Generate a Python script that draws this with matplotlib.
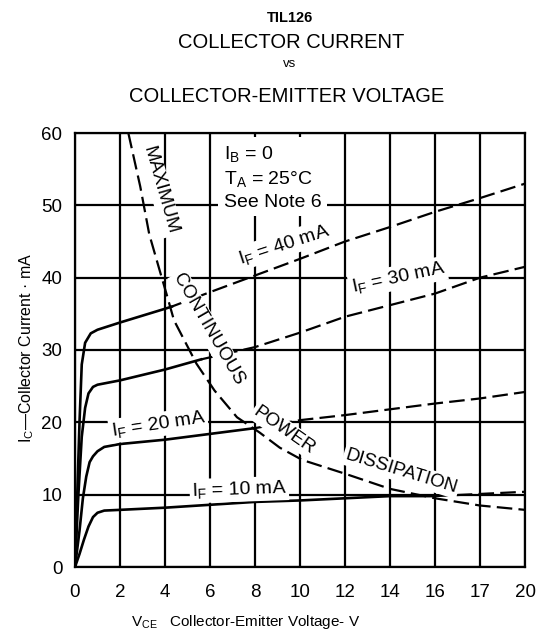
import matplotlib
matplotlib.use("Agg")
import matplotlib.pyplot as plt

plt.rcParams['font.family'] = ['Liberation Sans', 'DejaVu Sans']
plt.rcParams['mathtext.fontset'] = 'custom'
plt.rcParams['mathtext.rm'] = 'Liberation Sans'
plt.rcParams['mathtext.it'] = 'Liberation Sans:italic'
plt.rcParams['mathtext.bf'] = 'Liberation Sans:bold'
plt.rcParams['mathtext.default'] = 'regular'

# axis ticks (the scan labels the 18 V line as "17")
x_ticks = [0, 2, 4, 6, 8, 10, 12, 14, 16, 18, 20]
x_tick_labels = ['0', '2', '4', '6', '8', '10', '12', '14', '16', '17', '20']
y_ticks = [0, 10, 20, 30, 40, 50, 60]

# IF = 10 mA
if10_v = [0, 0.2, 0.4, 0.6, 0.8, 1.0, 1.3, 2, 4, 6, 8, 10, 12, 14, 16]
if10_i = [0, 1.8, 3.8, 5.6, 6.9, 7.5, 7.8, 7.9, 8.2, 8.6, 9.0, 9.2, 9.5, 9.8, 9.8]
if10_dash_v = [16, 18, 20]
if10_dash_i = [9.8, 10.1, 10.4]

# IF = 20 mA
if20_v = [0, 0.2, 0.35, 0.5, 0.65, 0.8, 1.0, 1.3, 2, 4, 6, 8]
if20_i = [0, 5.0, 9.5, 12.5, 14.5, 15.3, 16.0, 16.6, 17.0, 17.6, 18.4, 19.2]
if20_dash_v = [8, 10, 12, 14, 16, 18, 20]
if20_dash_i = [19.2, 20.3, 21.0, 21.8, 22.6, 23.3, 24.2]

# IF = 30 mA
if30_v = [0, 0.15, 0.3, 0.45, 0.6, 0.8, 1.0, 2, 4, 5.6]
if30_i = [0, 10, 18, 22, 24, 24.9, 25.2, 25.8, 27.3, 28.7]
if30_dash_v = [5.6, 8, 10, 12, 14, 16, 18, 20]
if30_dash_i = [28.7, 30.4, 32.4, 34.6, 36.2, 37.8, 40.0, 41.5]

# IF = 40 mA
if40_v = [0, 0.1, 0.2, 0.3, 0.45, 0.7, 1.0, 2, 4, 4.3]
if40_i = [0, 10, 20, 28, 31, 32.3, 32.8, 33.8, 35.7, 36]
if40_dash_v = [4.3, 6, 8, 10, 12, 14, 16, 18, 20]
if40_dash_i = [36, 38, 40.3, 42.6, 45, 47, 49.1, 51, 53]

# maximum continuous power dissipation
pd_v = [2.37, 2.9, 3.3, 3.8, 4.1, 4.4, 5.4, 6.2, 7.2, 8.2, 9.1, 10.1, 12, 14, 16, 18, 20]
pd_i = [60, 52.6, 46, 40.6, 37.4, 34.1, 28.1, 24.4, 20.7, 18.6, 16.5, 14.8, 12.9, 10.8, 9.5, 8.5, 7.9]

fig = plt.figure(figsize=(5.37, 6.4), dpi=100)
ax = fig.add_axes([75 / 537, 73 / 640, 450 / 537, 434 / 640])

ax.set_xlim(0, 20)
ax.set_ylim(0, 60)
ax.set_xticks(x_ticks)
ax.set_xticklabels(x_tick_labels)
ax.set_yticks(y_ticks)
ax.tick_params(length=0, labelsize=13.5)
ax.tick_params(axis='x', pad=12)
ax.tick_params(axis='y', pad=9)
ax.grid(True, color='black', lw=1.6)
ax.set_axisbelow(True)
for sp in ax.spines.values():
    sp.set_linewidth(1.6)

solid = dict(color='black', lw=1.9, zorder=3)
dashed = dict(color='black', lw=1.6, ls=(0, (7, 2.8)), zorder=3)

for v, i, dv, di in [(if10_v, if10_i, if10_dash_v, if10_dash_i),
                     (if20_v, if20_i, if20_dash_v, if20_dash_i),
                     (if30_v, if30_i, if30_dash_v, if30_dash_i),
                     (if40_v, if40_i, if40_dash_v, if40_dash_i)]:
    ax.plot(v, i, **solid)
    ax.plot(dv, di, **dashed)

ax.plot(pd_v, pd_i, **dashed)

white = dict(facecolor='white', edgecolor='none', pad=1.5)

def label(x, y, s, rot, size=14):
    ax.text(x, y, s, rotation=rot, rotation_mode='anchor', ha='center', va='center',
            fontsize=size, bbox=white, zorder=5)

label(9.3, 44.6, 'I$_\\mathrm{F}$ = 40 mA', 18)
label(14.35, 40.0, 'I$_\\mathrm{F}$ = 30 mA', 12)
label(3.7, 19.7, 'I$_\\mathrm{F}$ = 20 mA', 8.5)
label(7.3, 10.7, 'I$_\\mathrm{F}$ = 10 mA', 2)

label(3.8, 52.1, 'MAXIMUM', -74, 13.5)
label(5.95, 32.8, 'CONTINUOUS', -60, 13.5)
label(9.3, 18.9, 'POWER', -35, 13.5)
label(14.5, 13.2, 'DISSIPATION', -17, 13.5)

ax.text(6.6, 53.9, 'I$_\\mathrm{B}$ = 0\nT$_\\mathrm{A}$ = 25°C\nSee Note 6', fontsize=14,
        ha='left', va='center', linespacing=1.35, zorder=5,
        bbox=dict(facecolor='white', edgecolor='none', pad=4))

fig.text(290 / 537, 1 - 18 / 640, 'TIL126', ha='center', va='center', fontsize=10.5, fontweight='bold')
fig.text(291 / 537, 1 - 42 / 640, 'COLLECTOR CURRENT', ha='center', va='center', fontsize=14.5)
fig.text(290 / 537, 1 - 64 / 640, 'vs', ha='center', va='center', fontsize=9.5)
fig.text(287 / 537, 1 - 97 / 640, 'COLLECTOR-EMITTER VOLTAGE', ha='center', va='center', fontsize=14.5)

fig.text(27 / 537, 1 - 348 / 640, 'I$_\\mathrm{C}$\u2014Collector Current \u00b7 mA', rotation=90,
         ha='center', va='center', fontsize=11.5)
fig.text(246 / 537, 1 - 622 / 640, 'V$_\\mathrm{CE}$   Collector-Emitter Voltage- V',
         ha='center', va='center', fontsize=11)

fig.savefig('out.png', dpi=100)
